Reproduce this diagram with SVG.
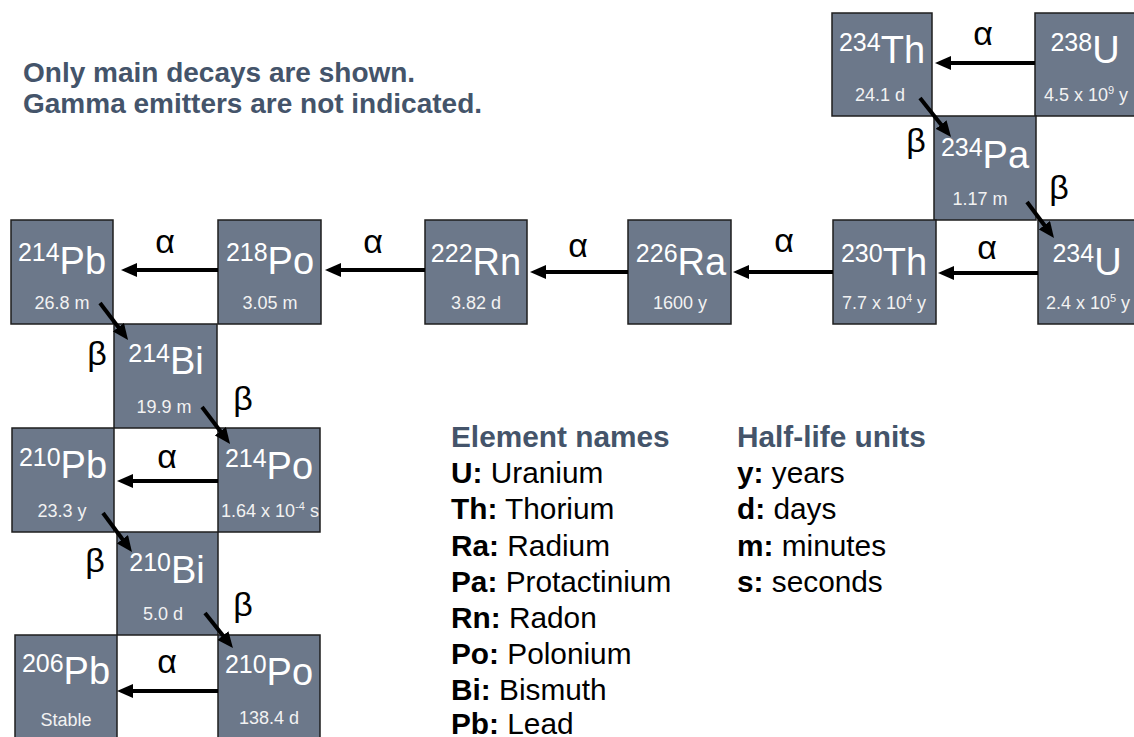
<svg xmlns="http://www.w3.org/2000/svg" width="1134" height="737" viewBox="0 0 1134 737">
  <style>
    .box { fill: #6C788A; stroke: #1E1E1E; stroke-width: 1.5; }
    .sym { font-family: "Liberation Sans", Arial, sans-serif; fill: #FFFFFF; text-anchor: middle; }
    .sym .m { font-size: 25px; }
    .sym .e { font-size: 38px; }
    .hl { font-family: "Liberation Sans", Arial, sans-serif; fill: #F2F2F2; font-size: 18px; text-anchor: middle; }
    .lbl { font-family: "Liberation Sans", Arial, sans-serif; fill: #000000; font-size: 34px; text-anchor: middle; }
    .note { font-family: "Liberation Sans", Arial, sans-serif; fill: #44546A; font-size: 28px; font-weight: bold; }
    .head { font-family: "Liberation Sans", Arial, sans-serif; fill: #44546A; font-size: 29.8px; font-weight: bold; }
    .leg { font-family: "Liberation Sans", Arial, sans-serif; fill: #000000; font-size: 29.8px; }
    .leg tspan.k { font-weight: bold; }
    .arrow { stroke: #000000; stroke-width: 4; fill: none; marker-end: url(#head); }
  </style>
  <defs>
    <marker id="head" markerUnits="userSpaceOnUse" markerWidth="16" markerHeight="14" refX="6" refY="7" orient="auto">
      <path d="M0,0 L16,7 L0,14 Z" fill="#000000"/>
    </marker>
  </defs>

  <rect width="1134" height="737" fill="#FFFFFF"/>

  <!-- notes -->
  <text class="note" x="23" y="82">Only main decays are shown.</text>
  <text class="note" x="23" y="113">Gamma emitters are not indicated.</text>

  <!-- nuclides -->
  <g id="U238">
    <rect class="box" x="1035" y="13" width="101" height="103"/>
    <text class="sym" x="1085" y="63"><tspan class="m" dy="-12">238</tspan><tspan class="e" dy="12">U</tspan></text>
    <text class="hl" x="1086" y="101">4.5 x 10<tspan font-size="11" dy="-7">9</tspan><tspan dy="7"> y</tspan></text>
  </g>
  <g id="Th234">
    <rect class="box" x="832" y="13" width="100" height="103"/>
    <text class="sym" x="882" y="63"><tspan class="m" dy="-12">234</tspan><tspan class="e" dy="12">Th</tspan></text>
    <text class="hl" x="880" y="101">24.1 d</text>
  </g>
  <g id="Pa234">
    <rect class="box" x="934" y="116" width="102" height="104"/>
    <text class="sym" x="985" y="168"><tspan class="m" dy="-12">234</tspan><tspan class="e" dy="12">Pa</tspan></text>
    <text class="hl" x="980" y="205">1.17 m</text>
  </g>
  <g id="U234">
    <rect class="box" x="1038" y="220" width="100" height="104"/>
    <text class="sym" x="1087" y="275"><tspan class="m" dy="-13">234</tspan><tspan class="e" dy="13">U</tspan></text>
    <text class="hl" x="1088" y="309">2.4 x 10<tspan font-size="11" dy="-7">5</tspan><tspan dy="7"> y</tspan></text>
  </g>
  <g id="Th230">
    <rect class="box" x="833" y="220" width="103" height="104"/>
    <text class="sym" x="884" y="275"><tspan class="m" dy="-13">230</tspan><tspan class="e" dy="13">Th</tspan></text>
    <text class="hl" x="884" y="309">7.7 x 10<tspan font-size="11" dy="-7">4</tspan><tspan dy="7"> y</tspan></text>
  </g>
  <g id="Ra226">
    <rect class="box" x="628" y="220" width="103" height="104"/>
    <text class="sym" x="681" y="275"><tspan class="m" dy="-13">226</tspan><tspan class="e" dy="13">Ra</tspan></text>
    <text class="hl" x="680" y="309">1600 y</text>
  </g>
  <g id="Rn222">
    <rect class="box" x="425" y="220" width="102" height="104"/>
    <text class="sym" x="476" y="275"><tspan class="m" dy="-13">222</tspan><tspan class="e" dy="13">Rn</tspan></text>
    <text class="hl" x="476" y="309">3.82 d</text>
  </g>
  <g id="Po218">
    <rect class="box" x="218" y="220" width="103" height="104"/>
    <text class="sym" x="270" y="274"><tspan class="m" dy="-13">218</tspan><tspan class="e" dy="13">Po</tspan></text>
    <text class="hl" x="270" y="309">3.05 m</text>
  </g>
  <g id="Pb214">
    <rect class="box" x="11" y="220" width="102" height="104"/>
    <text class="sym" x="62" y="274"><tspan class="m" dy="-13">214</tspan><tspan class="e" dy="13">Pb</tspan></text>
    <text class="hl" x="62" y="309">26.8 m</text>
  </g>
  <g id="Bi214">
    <rect class="box" x="114" y="324" width="103" height="104"/>
    <text class="sym" x="166" y="374"><tspan class="m" dy="-12">214</tspan><tspan class="e" dy="12">Bi</tspan></text>
    <text class="hl" x="164" y="413">19.9 m</text>
  </g>
  <g id="Po214">
    <rect class="box" x="218" y="428" width="102" height="104"/>
    <text class="sym" x="269" y="479"><tspan class="m" dy="-12">214</tspan><tspan class="e" dy="12">Po</tspan></text>
    <text class="hl" x="270" y="517">1.64 x 10<tspan font-size="11" dy="-7">-4</tspan><tspan dy="7"> s</tspan></text>
  </g>
  <g id="Pb210">
    <rect class="box" x="12" y="428" width="102" height="104"/>
    <text class="sym" x="63" y="478"><tspan class="m" dy="-12">210</tspan><tspan class="e" dy="12">Pb</tspan></text>
    <text class="hl" x="62" y="517">23.3 y</text>
  </g>
  <g id="Bi210">
    <rect class="box" x="117" y="532" width="101" height="103"/>
    <text class="sym" x="167" y="583"><tspan class="m" dy="-12">210</tspan><tspan class="e" dy="12">Bi</tspan></text>
    <text class="hl" x="163" y="620">5.0 d</text>
  </g>
  <g id="Po210">
    <rect class="box" x="218" y="635" width="102" height="106"/>
    <text class="sym" x="269" y="685"><tspan class="m" dy="-12">210</tspan><tspan class="e" dy="12">Po</tspan></text>
    <text class="hl" x="269" y="724">138.4 d</text>
  </g>
  <g id="Pb206">
    <rect class="box" x="15" y="635" width="102" height="106"/>
    <text class="sym" x="66" y="684"><tspan class="m" dy="-12">206</tspan><tspan class="e" dy="12">Pb</tspan></text>
    <text class="hl" x="66" y="726">Stable</text>
  </g>

  <!-- decay connectors -->
  <g id="connectors">
    <line class="arrow" x1="1035" y1="63" x2="945" y2="63"/>
    <line class="arrow" x1="1038" y1="273" x2="948" y2="273"/>
    <line class="arrow" x1="833" y1="272" x2="743" y2="272"/>
    <line class="arrow" x1="628" y1="272" x2="540" y2="272"/>
    <line class="arrow" x1="425" y1="270" x2="335" y2="270"/>
    <line class="arrow" x1="218" y1="270" x2="131" y2="270"/>
    <line class="arrow" x1="218" y1="481" x2="127" y2="481"/>
    <line class="arrow" x1="218" y1="691" x2="127" y2="691"/>

    <line class="arrow" x1="920" y1="98" x2="944.8" y2="129.2"/>
    <line class="arrow" x1="1027" y1="202" x2="1048" y2="230"/>
    <line class="arrow" x1="100" y1="303" x2="122" y2="332"/>
    <line class="arrow" x1="202" y1="407" x2="224" y2="436"/>
    <line class="arrow" x1="103" y1="513" x2="126" y2="544"/>
    <line class="arrow" x1="205" y1="613" x2="226.7" y2="640.2"/>

    <!-- decay mode labels -->
    <text class="lbl" x="983" y="45">α</text>
    <text class="lbl" x="987" y="259">α</text>
    <text class="lbl" x="784" y="252">α</text>
    <text class="lbl" x="578" y="257">α</text>
    <text class="lbl" x="373" y="253">α</text>
    <text class="lbl" x="165" y="253">α</text>
    <text class="lbl" x="167" y="468">α</text>
    <text class="lbl" x="167" y="673">α</text>

    <text class="lbl" x="916" y="152">β</text>
    <text class="lbl" x="1059" y="199">β</text>
    <text class="lbl" x="97" y="365">β</text>
    <text class="lbl" x="243" y="410">β</text>
    <text class="lbl" x="95" y="572">β</text>
    <text class="lbl" x="243" y="616">β</text>
  </g>

  <!-- legend -->
  <g id="legend-elements">
    <text class="head" x="451" y="447">Element names</text>
    <text class="leg" x="451" y="483"><tspan class="k">U:</tspan> Uranium</text>
    <text class="leg" x="451" y="519"><tspan class="k">Th:</tspan> Thorium</text>
    <text class="leg" x="451" y="556"><tspan class="k">Ra:</tspan> Radium</text>
    <text class="leg" x="451" y="592"><tspan class="k">Pa:</tspan> Protactinium</text>
    <text class="leg" x="451" y="628"><tspan class="k">Rn:</tspan> Radon</text>
    <text class="leg" x="451" y="664"><tspan class="k">Po:</tspan> Polonium</text>
    <text class="leg" x="451" y="700"><tspan class="k">Bi:</tspan> Bismuth</text>
    <text class="leg" x="451" y="734"><tspan class="k">Pb:</tspan> Lead</text>
  </g>
  <g id="legend-units">
    <text class="head" x="737" y="447">Half-life units</text>
    <text class="leg" x="737" y="483"><tspan class="k">y:</tspan> years</text>
    <text class="leg" x="737" y="519"><tspan class="k">d:</tspan> days</text>
    <text class="leg" x="737" y="556"><tspan class="k">m:</tspan> minutes</text>
    <text class="leg" x="737" y="592"><tspan class="k">s:</tspan> seconds</text>
  </g>
</svg>
